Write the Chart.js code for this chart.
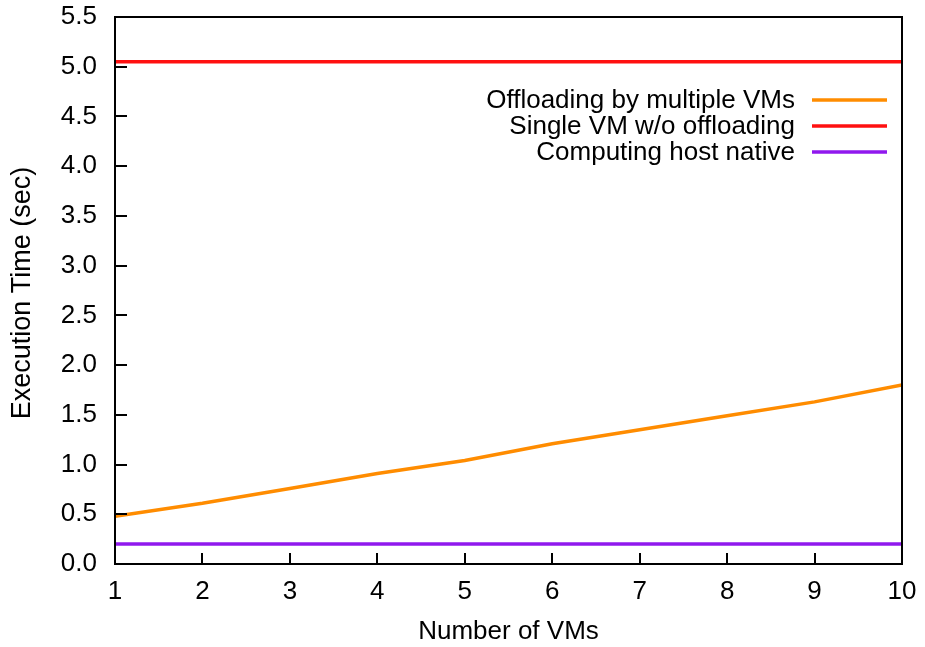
<!DOCTYPE html>
<html>
<head>
<meta charset="utf-8">
<title>Execution Time vs Number of VMs</title>
<script src="https://cdn.jsdelivr.net/npm/chart.js@4/dist/chart.umd.min.js"></script>
<style>
  html, body { margin: 0; padding: 0; background: #ffffff; }
  canvas { display: block; }
</style>
</head>
<body>
<canvas id="chart" width="925" height="647"></canvas>
<script>
// Number of VMs on the x axis
const vmCounts = [1, 2, 3, 4, 5, 6, 7, 8, 9, 10];

// Execution time (sec) for each configuration
const offloadingTimes = [0.48, 0.61, 0.76, 0.91, 1.04, 1.21, 1.35, 1.49, 1.63, 1.80];
const singleVmTimes   = [5.05, 5.05, 5.05, 5.05, 5.05, 5.05, 5.05, 5.05, 5.05, 5.05];
const hostNativeTimes = [0.20, 0.20, 0.20, 0.20, 0.20, 0.20, 0.20, 0.20, 0.20, 0.20];

const seriesLabels = ['Offloading by multiple VMs', 'Single VM w/o offloading', 'Computing host native'];
const seriesColors = ['#ff8c00', '#ff1010', '#9018ee'];

const xTitle = 'Number of VMs';
const yTitle = 'Execution Time (sec)';

const FONT = '"Liberation Sans", Arial, Helvetica, sans-serif';

function toPoints(values) {
  return vmCounts.map((v, i) => ({ x: v, y: values[i] }));
}

// Frame, inward tick marks, legend and rotated y title
const decorPlugin = {
  id: 'decor',
  beforeDraw(chart) {
    const ctx = chart.ctx;
    ctx.save();
    ctx.fillStyle = '#ffffff';
    ctx.fillRect(0, 0, chart.width, chart.height);
    ctx.restore();
  },
  afterDatasetsDraw(chart) {
    const ctx = chart.ctx;
    const a = chart.chartArea;
    const xs = chart.scales.x, ys = chart.scales.y;
    ctx.save();
    ctx.strokeStyle = '#000000';
    ctx.lineWidth = 2;
    ctx.lineCap = 'butt';
    // tick marks pointing into the plot
    ctx.beginPath();
    ys.ticks.forEach(t => {
      const py = Math.round(ys.getPixelForValue(t.value));
      ctx.moveTo(a.left, py);
      ctx.lineTo(a.left + 12, py);
    });
    xs.ticks.forEach(t => {
      const px = Math.round(xs.getPixelForValue(t.value));
      ctx.moveTo(px, a.bottom);
      ctx.lineTo(px, a.bottom - 11);
    });
    ctx.stroke();
    // plot frame
    ctx.strokeRect(a.left, a.top, a.right - a.left, a.bottom - a.top);
    ctx.restore();

    // legend: right-aligned text with a line sample to its right
    ctx.save();
    ctx.font = '26px ' + FONT;
    ctx.fillStyle = '#000000';
    ctx.textAlign = 'right';
    ctx.textBaseline = 'middle';
    chart.data.datasets.forEach((ds, i) => {
      const y = 100 + i * 26;
      ctx.fillText(ds.label, 795, y + 1);
      ctx.strokeStyle = ds.borderColor;
      ctx.lineWidth = 3.5;
      ctx.beginPath();
      ctx.moveTo(812, y);
      ctx.lineTo(887, y);
      ctx.stroke();
    });
    ctx.restore();

    // y axis title
    ctx.save();
    ctx.font = '27px ' + FONT;
    ctx.fillStyle = '#000000';
    ctx.textAlign = 'center';
    ctx.textBaseline = 'middle';
    ctx.translate(23, 293);
    ctx.rotate(-Math.PI / 2);
    ctx.fillText(yTitle, 0, 0);
    ctx.restore();
  }
};

new Chart(document.getElementById('chart'), {
  type: 'line',
  data: {
    datasets: [
      { label: seriesLabels[0], data: toPoints(offloadingTimes), borderColor: seriesColors[0] },
      { label: seriesLabels[1], data: toPoints(singleVmTimes),   borderColor: seriesColors[1] },
      { label: seriesLabels[2], data: toPoints(hostNativeTimes), borderColor: seriesColors[2] }
    ].map(ds => Object.assign(ds, {
      borderWidth: 3.5,
      pointRadius: 0,
      pointHoverRadius: 0,
      tension: 0,
      fill: false,
      backgroundColor: ds.borderColor
    }))
  },
  options: {
    responsive: false,
    animation: false,
    events: [],
    layout: { padding: { top: 17, right: 23, left: 0, bottom: 0 } },
    plugins: {
      legend: { display: false },
      tooltip: { enabled: false },
      title: { display: false }
    },
    scales: {
      x: {
        type: 'linear',
        min: 1,
        max: 10,
        grid: { display: false, drawTicks: false },
        border: { display: false },
        ticks: {
          stepSize: 1,
          autoSkip: false,
          maxRotation: 0,
          padding: 12,
          color: '#000000',
          font: { family: FONT, size: 26 }
        },
        title: {
          display: true,
          text: xTitle,
          color: '#000000',
          font: { family: FONT, size: 26 },
          padding: { top: 0, bottom: 0 }
        },
        afterFit(scale) {
          scale.height = 83;
          scale.paddingLeft = 0;
          scale.paddingRight = 0;
        }
      },
      y: {
        type: 'linear',
        min: 0,
        max: 5.5,
        grid: { display: false, drawTicks: false },
        border: { display: false },
        ticks: {
          stepSize: 0.5,
          padding: 18,
          color: '#000000',
          font: { family: FONT, size: 26 },
          callback: v => Number(v).toFixed(1)
        },
        afterFit(scale) {
          scale.width = 115;
          scale.paddingTop = 0;
          scale.paddingBottom = 0;
        }
      }
    }
  },
  plugins: [decorPlugin]
});
</script>
</body>
</html>
